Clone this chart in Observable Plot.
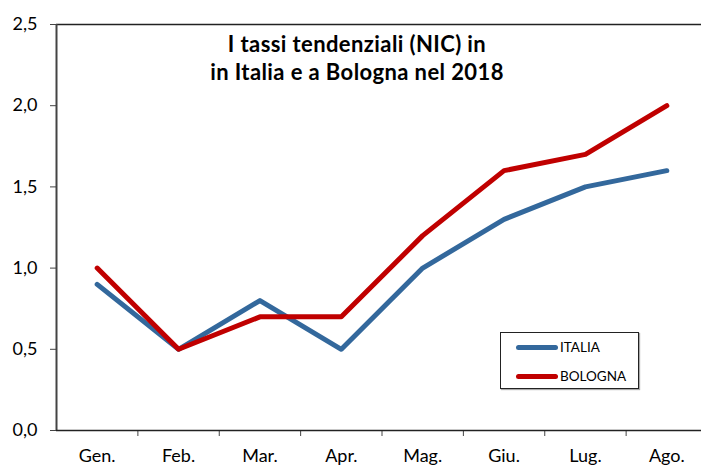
<!DOCTYPE html>
<html>
<head>
<meta charset="utf-8">
<script src="https://cdn.jsdelivr.net/npm/d3@7"></script>
<script src="https://cdn.jsdelivr.net/npm/@observablehq/plot@0.6"></script>
<style>
  html, body { margin: 0; padding: 0; background: #fff; }
  #wrap { position: relative; width: 701px; height: 468px; overflow: hidden; font-family: Lato, "Open Sans", sans-serif; }
  #title { position: absolute; left: 157px; top: 30px; width: 400px; text-align: center; font-weight: bold; font-size: 22px; letter-spacing: 0.4px; line-height: 28px; color: #000; }
  #legend { position: absolute; left: 500px; top: 332px; width: 137px; height: 55px; border: 1.5px solid #222; background: #fff; box-shadow: 1px 1px 1px #aaa; font-size: 13.5px; }
  .item { position: absolute; left: 15px; height: 16px; display: flex; align-items: center; }
  .sw { width: 42px; height: 5px; border-radius: 3px; margin-right: 2px; }
</style>
</head>
<body>
<div id="wrap">
  <div id="chart"></div>
  <div id="title">I tassi tendenziali (NIC) in<br>in Italia e a Bologna nel 2018</div>
  <div id="legend"></div>
</div>
<script>
const months = ["Gen.", "Feb.", "Mar.", "Apr.", "Mag.", "Giu.", "Lug.", "Ago."];
const italia = [0.9, 0.5, 0.8, 0.5, 1.0, 1.3, 1.5, 1.6];
const bologna = [1.0, 0.5, 0.7, 0.7, 1.2, 1.6, 1.7, 2.0];
const yTicks = [0, 0.5, 1.0, 1.5, 2.0, 2.5];
const seriesNames = ["ITALIA", "BOLOGNA"];
const seriesColors = ["#33689C", "#C00000"];

const data = [];
months.forEach((m, i) => data.push({ i: i + 0.5, v: italia[i], s: "ITALIA" }));
months.forEach((m, i) => data.push({ i: i + 0.5, v: bologna[i], s: "BOLOGNA" }));

const chart = Plot.plot({
  width: 701,
  height: 468,
  marginTop: 24,
  marginBottom: 38,
  marginLeft: 56,
  marginRight: 0,
  style: { fontFamily: "Lato, 'Open Sans', sans-serif", color: "#000", background: "#fff" },
  x: { domain: [0, months.length], range: [56, 707], axis: null },
  y: { domain: [0, 2.5], axis: null },
  color: { domain: seriesNames, range: seriesColors },
  marks: [
    Plot.ruleY([2.5], { stroke: "#222", strokeWidth: 1.5 }),
    Plot.axisY({ ticks: yTicks, tickFormat: d => d.toFixed(1).replace(".", ","), tickSize: 6, tickPadding: 13, fontSize: 18, label: null, stroke: "#444" }),
    Plot.axisX({ ticks: d3.range(1, months.length + 1), tickFormat: () => "", tickSize: 6, label: null, stroke: "#444" }),
    Plot.axisX({ ticks: months.map((m, i) => i + 0.5), tickFormat: d => months[Math.floor(d)], tickSize: 0, tickPadding: 19, fontSize: 18, label: null }),
    Plot.ruleX([0], { stroke: "#444", strokeWidth: 2 }),
    Plot.ruleY([0], { stroke: "#222", strokeWidth: 1.5 }),
    Plot.line(data, { x: "i", y: "v", z: "s", stroke: "s", strokeWidth: 5, strokeLinecap: "round", strokeLinejoin: "round" })
  ]
});
document.getElementById("chart").appendChild(chart);

const legend = document.getElementById("legend");
seriesNames.forEach((name, k) => {
  const it = document.createElement("div");
  it.className = "item";
  it.style.top = (6 + k * 29) + "px";
  it.innerHTML = `<span class="sw" style="background:${seriesColors[k]}"></span><span>${name}</span>`;
  legend.appendChild(it);
});
</script>
</body>
</html>
